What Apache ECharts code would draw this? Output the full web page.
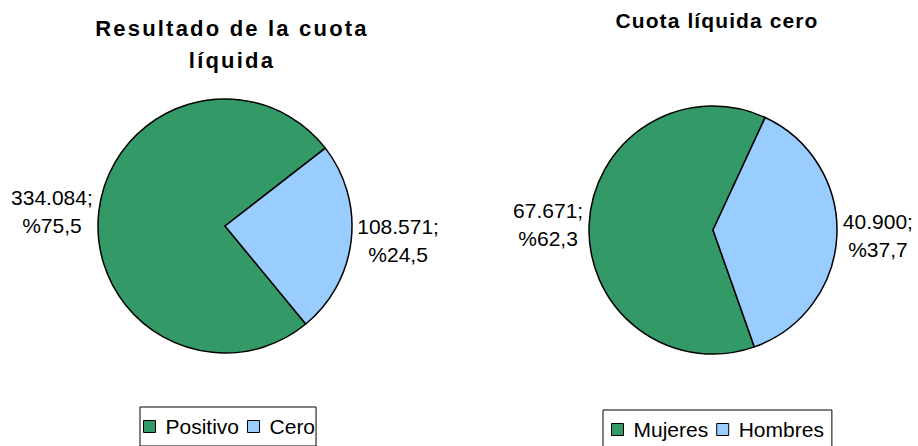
<!DOCTYPE html>
<html>
<head>
<meta charset="utf-8">
<script src="https://cdn.jsdelivr.net/npm/echarts@6/dist/echarts.min.js"></script>
<style>
  html, body { margin: 0; padding: 0; background: #fff; }
  #chart { width: 918px; height: 446px; }
</style>
</head>
<body>
<div id="chart"></div>
<script>
// Resultado de la cuota líquida
var resultadoNames = ['Positivo', 'Cero'];
var resultadoValues = [334084, 108571];
// Cuota líquida cero, por sexo
var ceroNames = ['Mujeres', 'Hombres'];
var ceroValues = [67671, 40900];
var sliceColors = ['#339966', '#99CCFF'];

var FONT = '"Liberation Sans", Arial, sans-serif';

function miles(v) {
    return String(v).replace(/\B(?=(\d{3})+(?!\d))/g, '.');
}

function toData(names, values) {
    return names.map(function (n, i) {
        return { name: n, value: values[i], itemStyle: { color: sliceColors[i] } };
    });
}

function pieSeries(names, values, center, radius, startAngle) {
    return {
        type: 'pie',
        center: center,
        radius: radius,
        startAngle: startAngle,
        clockwise: true,
        animation: false,
        silent: true,
        avoidLabelOverlap: false,
        data: toData(names, values),
        itemStyle: { borderColor: '#000', borderWidth: 1.5 },
        label: {
            show: true,
            position: 'outside',
            color: '#000',
            fontFamily: FONT,
            fontSize: 21,
            lineHeight: 28,
            distanceToLabelLine: 3,
            formatter: function (p) {
                return miles(p.value) + ';\n%' + p.percent.toFixed(1).replace('.', ',');
            }
        },
        labelLine: { show: false, length: 3, length2: 0 },
        labelLayout: function (p) {
            var r = p.labelRect;
            return { x: r.x + r.width / 2, y: r.y + r.height / 2, align: 'center', verticalAlign: 'middle' };
        }
    };
}

function legend(names, left, top, padding) {
    return {
        data: names,
        left: left,
        top: top,
        orient: 'horizontal',
        icon: 'rect',
        itemWidth: 12,
        itemHeight: 12,
        itemGap: 8,
        padding: padding,
        borderColor: '#000',
        borderWidth: 1,
        backgroundColor: '#fff',
        selectedMode: false,
        itemStyle: { borderColor: '#000', borderWidth: 1 },
        textStyle: { color: '#000', fontFamily: FONT, fontSize: 21, padding: [0, 0, 0, 5] }
    };
}

var chart = echarts.init(document.getElementById('chart'), null, { renderer: 'svg' });

var option = {
    backgroundColor: '#fff',
    animation: false,
    title: [
        {
            text: 'Resultado de la cuota\nlíquida',
            left: 232,
            top: 12,
            textAlign: 'center',
            padding: 0,
            textStyle: { fontFamily: FONT, fontSize: 22, fontWeight: 'bold', color: '#000', lineHeight: 32 }
        },
        {
            text: 'Cuota líquida cero',
            left: 717,
            top: 4,
            textAlign: 'center',
            padding: 0,
            textStyle: { fontFamily: FONT, fontSize: 21, fontWeight: 'bold', color: '#000', lineHeight: 32 }
        }
    ],
    legend: [
        legend(resultadoNames, 140, 407, [9, 1, 9, 3]),
        legend(ceroNames, 603, 410, [9, 8, 9, 8])
    ],
    series: [
        pieSeries(resultadoNames, resultadoValues, [225, 226], 127, 309.5),
        pieSeries(ceroNames, ceroValues, [713, 230], 124, 289.5)
    ]
};

chart.setOption(option);

// Excel draws the titles with wider letter spacing
var spacing = { 'Resultado de la cuota': 2.2, 'líquida': 2.2, 'Cuota líquida cero': 1.1 };
document.querySelectorAll('#chart svg text').forEach(function (t) {
    var s = spacing[t.textContent];
    if (s) t.setAttribute('letter-spacing', s);
});
</script>
</body>
</html>
